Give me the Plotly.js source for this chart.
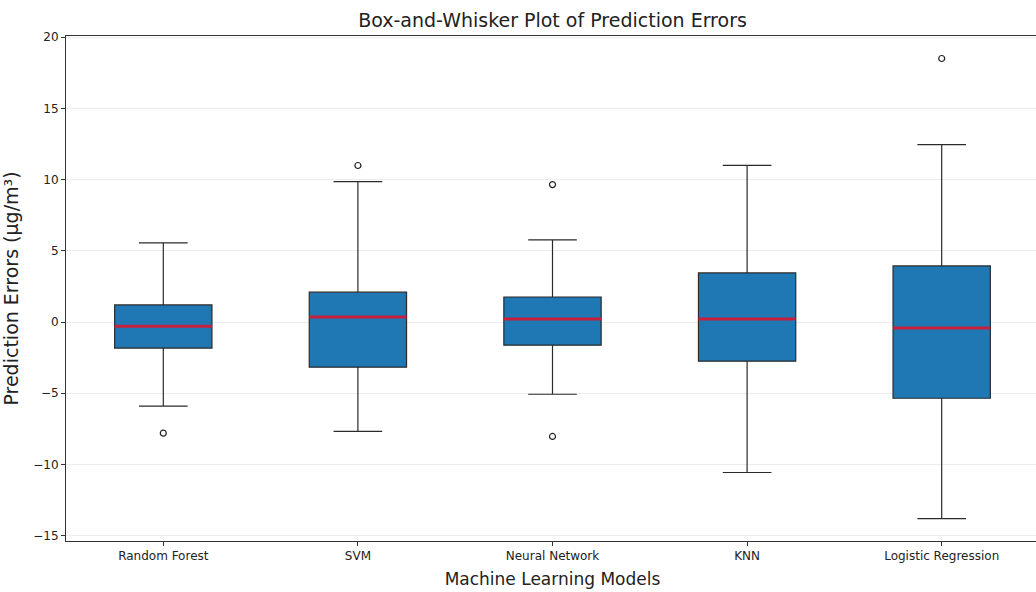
<!DOCTYPE html>
<html>
<head>
<meta charset="utf-8">
<script src="https://cdn.plot.ly/plotly-3.0.1.min.js"></script>
<style>
html,body{margin:0;padding:0;overflow:hidden;background:#fff;}
#chart{width:1040px;height:592px;}
</style>
</head>
<body>
<div id="chart"></div>
<script>
const models = ["Random Forest", "SVM", "Neural Network", "KNN", "Logistic Regression"];
const q1Vals = [-1.83, -3.17, -1.62, -2.75, -5.35];
const medianVals = [-0.3, 0.35, 0.21, 0.21, -0.42];
const q3Vals = [1.2, 2.1, 1.76, 3.45, 3.94];
const lowerWhisker = [-5.9, -7.68, -5.07, -10.56, -13.8];
const upperWhisker = [5.56, 9.86, 5.77, 11.0, 12.46];
const outlierModels = ["Random Forest", "SVM", "Neural Network", "Neural Network", "Logistic Regression"];
const outlierVals = [-7.8, 10.99, 9.65, -8.03, 18.5];
const yTicks = [-15, -10, -5, 0, 5, 10, 15, 20];

const boxWidth = 0.5;
const boxTrace = {
  type: 'box',
  x: models,
  q1: q1Vals,
  median: medianVals,
  q3: q3Vals,
  lowerfence: lowerWhisker,
  upperfence: upperWhisker,
  width: boxWidth,
  fillcolor: '#1f77b4',
  line: {color: '#2b2b2b', width: 1.2},
  whiskerwidth: 0.5,
  boxpoints: false,
  hoverinfo: 'skip',
  showlegend: false
};

const outlierTrace = {
  type: 'scatter',
  mode: 'markers',
  x: outlierModels,
  y: outlierVals,
  marker: {symbol: 'circle-open', size: 6, color: '#222', line: {width: 1.2}},
  showlegend: false,
  hoverinfo: 'skip'
};

const medianShapes = medianVals.map((m, i) => ({
  type: 'line', xref: 'x', yref: 'y',
  x0: i - boxWidth / 2, x1: i + boxWidth / 2, y0: m, y1: m,
  line: {color: '#c8203c', width: 3},
  layer: 'above'
}));

const font = "DejaVu Sans, sans-serif";
const layout = {
  width: 1040, height: 592,
  margin: {l: 66, r: 1, t: 36, b: 51},
  paper_bgcolor: '#fff', plot_bgcolor: '#fff',
  font: {family: font, color: '#222'},
  title: {text: 'Box-and-Whisker Plot of Prediction Errors', font: {size: 19, family: font, color: '#222'},
          x: 0.5, xref: 'paper', xanchor: 'center', y: 1 - 20/592, yref: 'container', yanchor: 'middle'},
  xaxis: {
    type: 'category',
    categoryarray: models,
    range: [-0.5, 4.5],
    showline: true, linecolor: '#333', linewidth: 1, mirror: true,
    ticks: 'outside', ticklen: 4, tickcolor: '#333',
    showgrid: false, zeroline: false,
    tickfont: {size: 12, family: font, color: '#222'},
    title: {text: 'Machine Learning Models', font: {size: 17, family: font, color: '#222'}, standoff: 10}
  },
  yaxis: {
    range: [-15.37, 20.08],
    tickvals: yTicks,
    ticktext: yTicks.map(v => v < 0 ? '\u2212' + Math.abs(v) : String(v)),
    showline: true, linecolor: '#333', linewidth: 1, mirror: true,
    ticks: 'outside', ticklen: 4, tickcolor: '#333',
    showgrid: true, gridcolor: '#ececec', gridwidth: 1,
    zeroline: false,
    tickfont: {size: 12, family: font, color: '#222'},
    title: {text: 'Prediction Errors (µg/m³)', font: {size: 19, family: font, color: '#222'}, standoff: 13}
  },
  shapes: medianShapes
};

Plotly.newPlot('chart', [boxTrace, outlierTrace], layout, {displayModeBar: false, staticPlot: true});
</script>
</body>
</html>
